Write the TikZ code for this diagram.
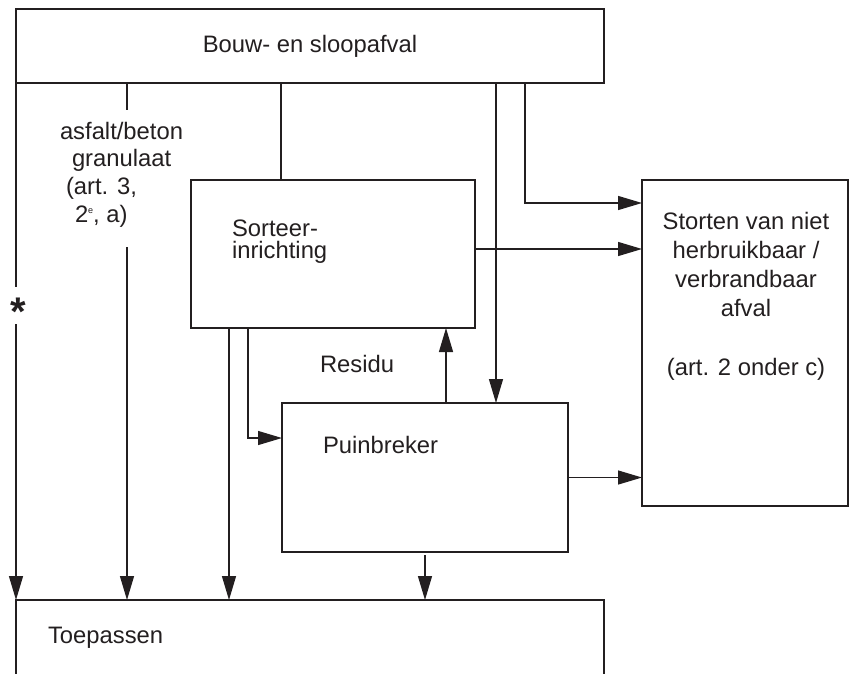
\documentclass[tikz,border=0pt]{standalone}
\usepackage{fontspec}
\setmainfont{Liberation Sans}
\usetikzlibrary{arrows.meta}
\definecolor{ink}{RGB}{35,31,32}
\begin{document}
\begin{tikzpicture}[x=1pt,y=-1pt,
  box/.style={draw=ink, line width=1.3pt, inner sep=0pt, outer sep=0pt},
  lbl/.style={text=ink, inner sep=0pt, outer sep=0pt, font=\fontsize{23.8}{28.6}\selectfont},
  con/.style={draw=ink, line width=1.3pt},
  arr/.style={con, -{Triangle[length=24pt,width=14pt]}},
]
\useasboundingbox (0,0) rectangle (849,673);
\clip (0,0) rectangle (849,673);
% boxes
\node[box, minimum width=588pt, minimum height=74pt] (top) at (310,46) {};
\node[box, minimum width=284pt, minimum height=148pt] (sort) at (333,254) {};
\node[box, minimum width=286pt, minimum height=149pt] (puin) at (425,477.5) {};
\node[box, minimum width=206pt, minimum height=326pt] (stor) at (745,343) {};
\node[box, minimum width=588pt, minimum height=100pt] (toep) at (310,650) {};
% texts
\node[lbl, anchor=base] (tTop) at (310,52) {Bouw- en sloopafval};
\node[lbl, anchor=base west, align=left, font=\fontsize{23.8}{27.6}\selectfont] (tAsf) at (60,222)
  {asfalt/beton\\\hspace*{12pt}granulaat\\\hspace*{6pt}(art. 3,\\\hspace*{15pt}2\raisebox{0.7ex}{\fontsize{9}{9}\selectfont e}, a)};
\node[lbl, anchor=base west, align=left, font=\fontsize{23.8}{22}\selectfont] (tSort) at (232,258) {Sorteer-\\inrichting};
\node[lbl, anchor=base, align=center, font=\fontsize{23.8}{28.8}\selectfont] (tStor) at (746,375)
  {Storten van niet\\herbruikbaar /\\verbrandbaar\\afval\\[30pt](art. 2 onder c)};
\node[lbl, anchor=base west] (tRes) at (320,372) {Residu};
\node[lbl, anchor=base west] (tPuin) at (323,453) {Puinbreker};
\node[lbl, anchor=base west] (tToep) at (48,643) {Toepassen};
\node[lbl, font=\fontsize{40}{40}\bfseries] (star) at (18,312) {*};
% coordinates
\coordinate (xA) at (127,0);
\coordinate (xB) at (281,0);
\coordinate (xC) at (496,0);
\coordinate (xD) at (525,0);
\coordinate (yD) at (0,203);
\coordinate (yE) at (0,249);
\coordinate (xF) at (229,0);
\coordinate (xG) at (248,0);
\coordinate (yG) at (0,438);
\coordinate (xH) at (446,0);
\coordinate (asfN) at (127,110);
\coordinate (asfS) at (127,247);
\coordinate (gapN) at (16,287);
\coordinate (gapS) at (16,324);
% connectors
\draw[con] (top.south west) -- (gapN);
\draw[arr] (gapS) -- (toep.north west);
\draw[con] (top.south -| xA) -- (asfN);
\draw[arr] (asfS) -- (toep.north -| xA);
\draw[con] (top.south -| xB) -- (sort.north -| xB);
\draw[arr] (top.south -| xC) -- (puin.north -| xC);
\draw[arr] (top.south -| xD) |- (stor.west |- yD);
\draw[arr] (sort.east |- yE) -- (stor.west |- yE);
\draw[arr] (sort.south -| xF) -- (toep.north -| xF);
\draw[arr] (sort.south -| xG) |- (puin.west |- yG);
\draw[arr] (puin.north -| xH) -- (sort.south -| xH);
\draw[arr] (puin.east) -- (puin.east -| stor.west);
\draw[arr, shorten <=3pt] (puin.south) -- (toep.north -| puin.south);
\end{tikzpicture}
\end{document}
